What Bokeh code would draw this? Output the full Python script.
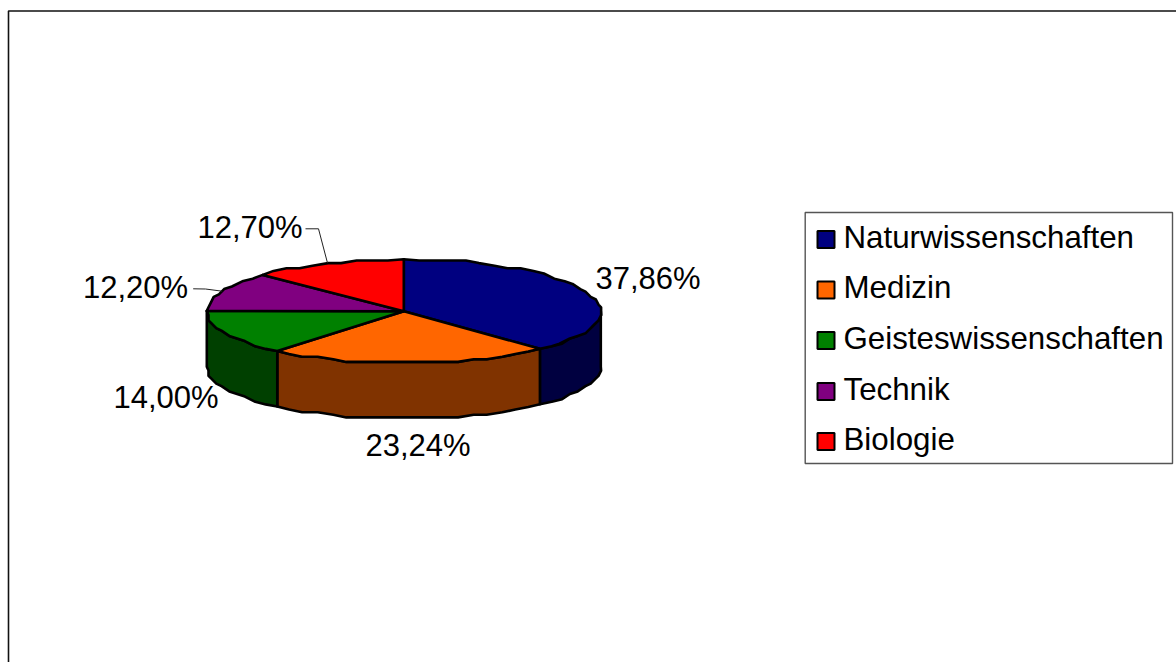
import numpy as np
from bokeh.plotting import figure
from bokeh.embed import file_html
from bokeh.resources import INLINE
from bokeh.core.properties import value

names = ["Naturwissenschaften", "Medizin", "Geisteswissenschaften", "Technik", "Biologie"]
shares = [37.86, 23.24, 14.00, 12.20, 12.70]
labels = ["37,86%", "23,24%", "14,00%", "12,20%", "12,70%"]
top_colors = ["#000080", "#FF6600", "#008000", "#800080", "#FF0000"]
side_colors = ["#000040", "#803300", "#004000", "#400040", "#800000"]

FONT = value("Liberation Sans")
W, H = 1176, 662
p = figure(width=W, height=H, x_range=(0, W), y_range=(H, 0),
           output_backend="svg", toolbar_location=None, min_border=0,
           outline_line_color=None, background_fill_color="white", border_fill_color="white")
p.xaxis.visible = False
p.yaxis.visible = False
p.grid.visible = False

# Outer frame
p.line([8, 8, W], [H, 10.5, 10.5], line_color="#111111", line_width=1.6)

CX, CY, RX, RY, DEPTH = 403.3, 310.7, 197.0, 52.0, 55.5
Q = 2.6

def arc(a0, a1):
    """Points on the ellipse between clockwise-from-top angles (degrees)."""
    n = max(2, int((a1 - a0) / 4.5))
    t = np.radians(np.linspace(a0, a1, n + 1))
    xs = CX + RX * np.sin(t)
    ys = CY - RY * np.cos(t)
    # the source metafile has coarse coordinates, which gives the scalloped rim
    xs[1:-1] = np.round(xs[1:-1] / Q) * Q
    ys[1:-1] = np.round(ys[1:-1] / Q) * Q
    return xs, ys

edges = np.concatenate([[0.0], np.cumsum(shares)]) * 3.6

# Rim side faces (only the part facing the viewer, 90..270 deg)
for i in range(len(shares)):
    a0, a1 = max(edges[i], 90.0), min(edges[i + 1], 270.0)
    if a1 <= a0:
        continue
    xs, ys = arc(a0, a1)
    px = np.concatenate([xs, xs[::-1]])
    py = np.concatenate([ys, (ys + DEPTH)[::-1]])
    p.patch(px, py, fill_color=side_colors[i], line_color="black", line_width=2.6, line_join="round")

# Top faces
for i in range(len(shares)):
    xs, ys = arc(edges[i], edges[i + 1])
    p.patch(np.concatenate([[CX], xs]), np.concatenate([[CY], ys]),
            fill_color=top_colors[i], line_color="black", line_width=2.6, line_join="round")

# Leader lines
p.line([305, 318, 327], [228.3, 228.3, 262.5], line_color="#222222", line_width=1)
p.line([192.7, 205, 221.7], [288.3, 288.5, 290.7], line_color="#222222", line_width=1)

# Data labels
lab_x = [647.5, 417.5, 165.5, 135, 249.5]
lab_y = [277.5, 444.5, 396.5, 286.5, 226.5]
p.text(lab_x, lab_y, text=labels, text_font=FONT, text_font_size="31px",
       text_align="center", text_baseline="middle", text_color="black")

# Legend
p.quad(left=[804.7], right=[1172], top=[212], bottom=[463], fill_color="white",
       line_color="#555555", line_width=1.4)
rows_sw = [239, 289.5, 340, 391, 441]
rows_tx = [236.5, 287, 337.5, 388.5, 439]
for yc, c in zip(rows_sw, top_colors):
    p.quad(left=[817], right=[834], top=[yc - 8.5], bottom=[yc + 8.5],
           fill_color=c, line_color="black", line_width=2)
p.text([843] * 5, rows_tx, text=names, text_font=FONT, text_font_size="31.3px",
       text_align="left", text_baseline="middle", text_color="black")

open("out.html", "w").write(file_html(p, INLINE))
